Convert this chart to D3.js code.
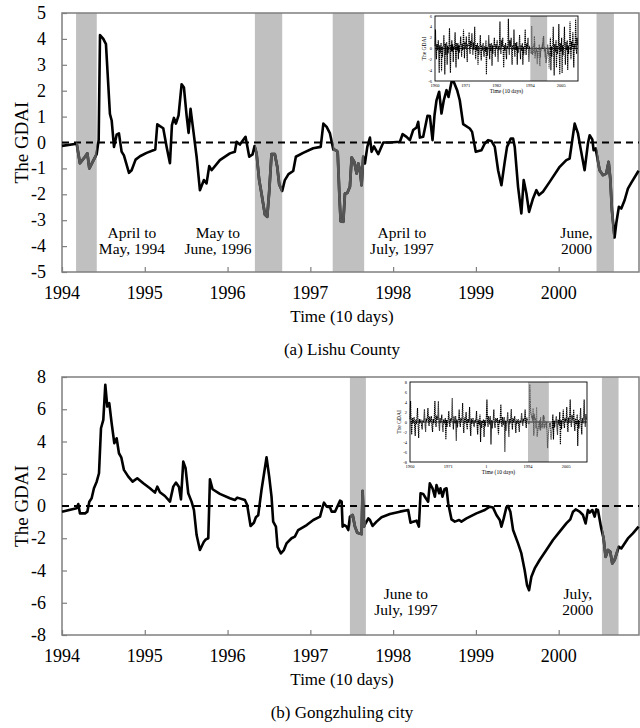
<!DOCTYPE html>
<html>
<head>
<meta charset="utf-8">
<script src="https://cdn.jsdelivr.net/npm/d3@7"></script>
<style>
  body { margin: 0; background: #fff; }
  svg { display: block; }
</style>
</head>
<body>
<div id="chart"></div>
<script>
// GDAI series, [decimal year, value] (10-day steps)
var lishuSeries = [[1994.000,-0.13],[1994.177,-0.05],[1994.217,-0.80],[1994.278,-0.55],[1994.306,-0.42],[1994.330,-1.00],[1994.378,-0.70],[1994.419,-0.45],[1994.443,0.10],[1994.459,4.15],[1994.499,4.00],[1994.531,3.80],[1994.579,1.10],[1994.600,0.85],[1994.628,-0.17],[1994.660,0.30],[1994.688,0.35],[1994.720,-0.35],[1994.748,-0.50],[1994.809,-1.17],[1994.841,-1.07],[1994.889,-0.66],[1994.942,-0.53],[1995.022,-0.40],[1995.127,-0.27],[1995.151,0.70],[1995.183,0.63],[1995.223,0.55],[1995.264,-0.17],[1995.304,-0.80],[1995.328,0.67],[1995.352,0.95],[1995.376,0.73],[1995.408,1.05],[1995.445,2.25],[1995.473,2.12],[1995.505,1.05],[1995.529,0.37],[1995.553,1.30],[1995.586,0.47],[1995.626,-0.55],[1995.666,-1.84],[1995.714,-1.45],[1995.746,-1.58],[1995.779,-0.91],[1995.807,-1.07],[1995.907,-0.68],[1996.028,-0.42],[1996.088,-0.36],[1996.109,0.03],[1996.149,-0.08],[1996.217,0.22],[1996.262,-0.55],[1996.302,-0.46],[1996.326,-0.14],[1996.350,-0.42],[1996.382,-1.45],[1996.410,-1.97],[1996.451,-2.78],[1996.479,-2.87],[1996.503,-1.90],[1996.531,-0.45],[1996.571,-0.45],[1996.600,-0.94],[1996.624,-1.62],[1996.660,-1.87],[1996.692,-1.45],[1996.736,-1.22],[1996.793,-1.10],[1996.825,-0.55],[1996.913,-0.40],[1997.034,-0.22],[1997.125,-0.17],[1997.157,0.73],[1997.197,0.60],[1997.237,0.35],[1997.277,-0.27],[1997.310,-0.30],[1997.330,-0.36],[1997.350,-1.97],[1997.366,-3.04],[1997.398,-3.06],[1997.418,-1.97],[1997.446,-1.95],[1997.478,-1.71],[1997.499,-0.58],[1997.531,-0.75],[1997.559,-1.20],[1997.579,-0.81],[1997.599,-1.07],[1997.619,-1.65],[1997.639,-0.55],[1997.659,-0.81],[1997.688,-0.17],[1997.720,0.19],[1997.740,-0.36],[1997.768,-0.15],[1997.820,-0.45],[1997.881,0.00],[1997.961,0.00],[1998.082,0.03],[1998.114,0.32],[1998.162,0.22],[1998.202,0.09],[1998.242,0.48],[1998.283,0.58],[1998.303,0.80],[1998.323,0.19],[1998.363,0.22],[1998.415,1.03],[1998.444,1.02],[1998.476,0.09],[1998.500,1.06],[1998.524,1.63],[1998.556,1.96],[1998.584,1.12],[1998.612,1.63],[1998.645,2.02],[1998.669,1.76],[1998.705,2.34],[1998.733,2.34],[1998.773,2.02],[1998.805,1.63],[1998.846,0.71],[1998.926,0.54],[1998.954,0.41],[1998.998,-0.36],[1999.067,-0.30],[1999.107,-0.04],[1999.147,0.09],[1999.187,0.06],[1999.228,-0.17],[1999.268,-1.07],[1999.308,-1.65],[1999.348,-0.75],[1999.376,-0.17],[1999.421,0.15],[1999.449,0.15],[1999.469,-0.17],[1999.509,-1.71],[1999.549,-2.74],[1999.577,-1.45],[1999.610,-1.97],[1999.642,-2.68],[1999.690,-2.16],[1999.730,-1.84],[1999.762,-2.03],[1999.810,-1.90],[1999.891,-1.52],[2000.012,-0.94],[2000.092,-0.68],[2000.132,-0.62],[2000.164,0.09],[2000.193,0.73],[2000.233,0.35],[2000.261,-0.17],[2000.313,-1.07],[2000.353,-0.04],[2000.374,0.28],[2000.406,0.12],[2000.422,-0.30],[2000.446,-0.23],[2000.494,-1.07],[2000.534,-1.26],[2000.575,-1.20],[2000.603,-0.75],[2000.623,-1.39],[2000.643,-2.61],[2000.675,-3.67],[2000.695,-3.13],[2000.727,-2.48],[2000.756,-2.55],[2000.796,-2.23],[2000.836,-1.78],[2000.876,-1.56],[2000.965,-1.09]];

var gongSeries = [[1994.000,-0.35],[1994.177,-0.14],[1994.197,0.12],[1994.217,-0.46],[1994.278,-0.46],[1994.306,-0.35],[1994.330,0.27],[1994.358,0.48],[1994.386,1.10],[1994.419,1.51],[1994.447,2.03],[1994.471,4.82],[1994.499,5.34],[1994.523,7.52],[1994.547,6.17],[1994.571,6.38],[1994.600,5.13],[1994.632,3.89],[1994.660,4.20],[1994.688,3.27],[1994.716,3.02],[1994.748,2.24],[1994.801,1.82],[1994.853,1.51],[1994.909,1.72],[1994.982,1.41],[1995.062,1.10],[1995.123,0.83],[1995.151,1.20],[1995.183,0.85],[1995.243,0.62],[1995.304,0.27],[1995.344,1.20],[1995.376,1.45],[1995.412,1.20],[1995.437,0.41],[1995.465,2.75],[1995.493,2.34],[1995.525,0.79],[1995.565,0.27],[1995.594,-0.25],[1995.626,-1.80],[1995.666,-2.73],[1995.714,-2.22],[1995.738,-2.07],[1995.767,-2.00],[1995.787,1.66],[1995.819,1.04],[1995.907,0.75],[1996.028,0.48],[1996.088,0.37],[1996.117,0.52],[1996.209,0.37],[1996.237,0.06],[1996.278,-1.24],[1996.318,-1.04],[1996.342,-0.70],[1996.370,-0.58],[1996.410,0.99],[1996.471,3.02],[1996.503,1.82],[1996.531,0.58],[1996.551,-0.97],[1996.584,-1.28],[1996.604,-2.53],[1996.644,-2.94],[1996.680,-2.73],[1996.712,-2.32],[1996.773,-2.00],[1996.813,-1.90],[1996.853,-1.49],[1996.956,-1.18],[1997.036,-0.87],[1997.117,-0.66],[1997.149,-0.04],[1997.165,0.21],[1997.197,-0.04],[1997.237,-0.08],[1997.257,-0.35],[1997.298,-0.35],[1997.326,-0.04],[1997.358,0.33],[1997.378,0.27],[1997.390,-1.28],[1997.410,-1.18],[1997.438,-1.28],[1997.458,-1.49],[1997.478,-0.66],[1997.511,-0.56],[1997.539,-1.28],[1997.567,-1.66],[1997.619,-1.74],[1997.631,0.93],[1997.647,-1.28],[1997.671,-1.04],[1997.700,-0.77],[1997.720,-0.87],[1997.752,-1.24],[1997.800,-0.97],[1997.860,-0.70],[1997.961,-0.50],[1998.082,-0.35],[1998.182,-0.25],[1998.210,-1.04],[1998.242,-0.97],[1998.283,-0.91],[1998.311,-1.28],[1998.331,0.79],[1998.363,0.75],[1998.395,0.48],[1998.423,0.27],[1998.443,1.41],[1998.476,1.10],[1998.504,0.58],[1998.524,1.30],[1998.556,0.79],[1998.572,1.10],[1998.596,0.58],[1998.620,1.04],[1998.645,1.10],[1998.665,0.17],[1998.705,-0.83],[1998.745,-0.97],[1998.797,-0.87],[1998.825,-0.97],[1998.886,-0.77],[1999.006,-0.46],[1999.107,-0.25],[1999.167,-0.04],[1999.207,-0.10],[1999.248,-0.56],[1999.288,-0.87],[1999.308,-1.28],[1999.336,-0.77],[1999.368,-0.08],[1999.388,0.00],[1999.416,-0.35],[1999.449,-1.49],[1999.509,-2.32],[1999.549,-2.94],[1999.589,-3.98],[1999.618,-4.91],[1999.642,-5.22],[1999.670,-4.39],[1999.710,-3.87],[1999.770,-3.35],[1999.851,-2.73],[1999.931,-2.11],[2000.012,-1.59],[2000.092,-1.08],[2000.140,-0.83],[2000.173,-0.35],[2000.205,-0.21],[2000.253,-0.35],[2000.293,-0.56],[2000.325,-1.08],[2000.353,-0.25],[2000.374,-0.41],[2000.406,-0.25],[2000.434,-0.66],[2000.454,-0.21],[2000.474,-0.25],[2000.514,-1.39],[2000.542,-2.01],[2000.567,-3.15],[2000.595,-2.73],[2000.623,-2.84],[2000.647,-3.56],[2000.675,-3.35],[2000.703,-2.90],[2000.727,-2.53],[2000.756,-2.63],[2000.796,-2.32],[2000.836,-2.01],[2000.896,-1.70],[2000.965,-1.28]];

// drought periods (shaded)
var lishuBands = [[1994.17, 1994.42], [1996.33, 1996.66], [1997.27, 1997.65], [2000.457, 2000.667]];
var gongBands = [[1997.478, 1997.671], [2000.522, 2000.723]];

// inset long records, six readings per year (1960-1993 and 2001-2010)
var lishuInsetEarly = [
  [0.5,3.5,-0.6,-2.0,0.8,-0.3],[0.2,1.5,-1.0,-4.5,0.6,-0.8],[-0.5,1.0,-4.2,0.4,-1.6,0.3],[0.6,2.5,-0.4,-4.8,0.9,-1.2],
  [-0.3,1.2,-3.0,0.5,-0.9,0.2],[0.4,3.8,-1.1,-4.5,0.7,-0.5],[1.5,-0.6,0.8,-2.5,0.3,-0.2],[0.2,3.0,-0.7,-3.5,1.0,0.1],
  [-0.4,1.0,-2.0,0.6,-0.8,0.4],[0.7,2.2,0.1,-1.5,0.9,-0.3],[0.5,3.5,0.8,-1.8,1.2,0.2],[0.3,2.2,-0.5,-2.5,0.8,0.4],
  [0.9,3.0,0.2,-1.0,1.4,0.3],[0.4,2.8,0.6,-1.2,1.1,-0.2],[0.8,4.0,0.3,-2.0,0.7,0.1],[-0.4,1.0,-3.0,0.5,-1.2,0.2],
  [0.3,2.5,-0.6,-2.2,0.6,-0.4],[0.5,1.0,-0.8,-1.5,0.4,-0.1],[-0.6,1.5,-4.8,0.3,-1.4,0.2],[0.4,2.5,-0.3,-2.0,0.9,-0.5],
  [-0.2,1.0,-3.2,0.6,-1.0,0.3],[0.6,2.0,-0.4,-1.5,0.8,0.1],[0.3,1.5,-0.9,-2.5,0.5,-0.3],[0.7,5.0,0.2,-1.0,1.6,0.4],
  [0.5,2.0,-0.7,-3.5,0.6,-0.4],[0.2,1.0,-0.8,-2.0,0.5,0.1],[0.8,5.5,0.4,-1.2,1.5,0.3],[0.4,2.0,-0.9,-3.0,0.6,-0.2],
  [0.6,3.5,-0.2,-1.5,1.0,0.2],[-0.3,1.2,-3.0,0.4,-0.8,0.1],[0.5,2.5,-0.4,-2.0,0.7,-0.3],[-0.2,1.0,-3.0,0.3,-1.1,0.2],
  [0.6,3.5,0.1,-1.2,0.9,0.2],[0.4,2.0,-0.6,-2.5,0.5,-0.1]
];
var lishuInsetLate = [
  [-0.6,2.0,-4.0,0.4,-1.5,0.3],[0.5,4.0,-1.0,-5.0,0.8,-0.6],[-0.4,1.5,-3.5,0.5,-1.0,0.2],[0.7,4.5,-0.8,-4.8,1.0,-0.5],
  [-0.5,2.0,-4.5,0.6,-1.3,0.3],[0.9,4.0,-0.6,-3.0,1.2,0.2],[-0.3,1.5,-4.0,0.5,-1.0,0.4],[0.8,5.0,0.2,-2.0,1.3,0.3],
  [0.4,3.0,-0.8,-3.5,0.9,-0.2],[1.0,5.5,0.5,-1.0,2.0,0.6]
];
var gongInsetEarly = [
  [0.6,4.2,-0.5,-2.5,0.8,-0.3],[0.3,1.0,-0.9,-2.8,0.5,-0.4],[0.7,2.8,-0.6,-3.2,0.6,-0.2],[0.2,0.5,-0.7,-1.5,0.4,-0.1],
  [0.5,2.6,-0.4,-2.0,0.7,0.1],[0.9,2.8,0.3,-0.8,1.1,0.2],[0.4,1.2,-0.8,-2.0,0.6,-0.3],[1.0,4.2,0.2,-1.0,1.3,0.4],
  [0.6,4.2,-0.5,-1.8,0.8,-0.2],[0.3,1.5,-0.7,-2.0,0.5,-0.1],[-0.2,0.8,-3.5,0.4,-1.0,0.2],[0.5,2.2,-0.3,-1.0,0.7,0.1],
  [0.8,4.8,0.1,-1.5,1.2,0.3],[-0.3,1.2,-3.8,0.5,-1.1,0.2],[0.6,2.5,-0.2,-1.0,0.8,0.1],[0.7,3.8,-0.6,-2.2,0.9,-0.3],
  [0.4,2.0,-0.5,-1.5,0.6,-0.1],[0.5,3.0,-0.9,-2.8,0.7,-0.4],[0.2,0.8,-0.6,-1.0,0.4,0.1],[0.6,2.2,-0.7,-2.5,0.5,-0.2],
  [-0.4,1.5,-4.0,0.3,-1.2,0.2],[-0.2,0.5,-3.0,0.4,-0.9,0.1],[0.9,4.5,0.2,-1.0,1.2,0.3],[-0.5,1.2,-4.5,0.4,-1.3,0.1],
  [0.5,2.5,-0.3,-1.2,0.8,0.2],[0.1,0.8,-0.9,-2.5,0.4,-0.3],[0.7,3.5,0.1,-1.0,1.0,0.2],[-0.6,1.0,-6.0,0.3,-1.8,0.2],
  [0.4,2.0,-0.8,-3.0,0.6,-0.3],[0.6,2.6,-0.2,-1.5,0.8,0.1],[0.3,1.2,-0.7,-2.2,0.5,-0.2],[0.1,0.6,-0.8,-2.0,0.3,-0.1],
  [0.5,1.8,0.0,-0.8,0.7,0.2],[0.7,2.5,-0.2,-1.2,0.9,0.3]
];
var gongInsetLate = [
  [-0.4,1.5,-3.5,0.3,-1.1,0.2],[0.3,1.2,-0.9,-2.6,0.5,-0.3],[-0.5,2.0,-4.5,0.4,-1.4,0.2],[0.6,2.5,-0.3,-1.2,0.8,0.1],
  [0.5,3.0,-0.6,-2.0,0.9,-0.2],[1.0,4.5,0.2,-1.0,1.4,0.4],[0.4,2.5,-0.5,-1.8,0.7,-0.1],[-0.5,1.5,-4.8,0.4,-1.3,0.2],
  [0.6,2.8,-0.7,-2.5,0.8,-0.3],[1.1,4.5,0.4,-1.0,1.6,0.5]
];

var yearTicks = [1994, 1995, 1996, 1997, 1998, 1999, 2000];
var insetTickYears = [1960, 1971, 1982, 1994, 2005];
var lishuInsetLabels = ["1960", "1971", "1982", "1994", "2005"];
var gongInsetLabels = ["1960", "1971", "1", "1994", "2005"];

var svg = d3.select("#chart").append("svg")
  .attr("width", 640)
  .attr("height", 728)
  .attr("font-family", "'Liberation Serif', 'Times New Roman', Times, serif");

// builds the inset record: hand-read rows + the 1994-2000 series
function insetPoints(early, series, late) {
  var pts = [];
  early.forEach(function(row, i) {
    row.forEach(function(v, j) { pts.push([1960 + i + j / 6, v]); });
  });
  series.forEach(function(d) { pts.push(d); });
  late.forEach(function(row, i) {
    row.forEach(function(v, j) { pts.push([2001 + i + j / 6, v]); });
  });
  return pts;
}

function drawPanel(cfg) {
  var left = 62, right = 639;
  var x = d3.scaleLinear().domain([1994, 2000.97]).range([left, right]);
  var y = d3.scaleLinear().domain(cfg.yDomain).range([cfg.bottom, cfg.top]);
  var g = svg.append("g");

  // shaded periods
  g.selectAll(".band").data(cfg.bands).enter().append("rect")
    .attr("x", d => x(d[0]))
    .attr("width", d => x(d[1]) - x(d[0]))
    .attr("y", cfg.top)
    .attr("height", cfg.bottom - cfg.top)
    .attr("fill", "#c0c0c0");

  // frame
  g.append("rect")
    .attr("x", left).attr("y", cfg.top)
    .attr("width", right - left).attr("height", cfg.bottom - cfg.top)
    .attr("fill", "none").attr("stroke", "#7f7f7f").attr("stroke-width", 1.5);

  var yAxis = g.append("g")
    .attr("transform", `translate(${left},0)`)
    .call(d3.axisRight(y).tickValues(cfg.yTicks).tickSize(5).tickFormat(""));
  yAxis.select(".domain").remove();
  yAxis.selectAll("line").attr("stroke", "#7f7f7f").attr("stroke-width", 1.2);

  var xAxis = g.append("g")
    .attr("transform", `translate(0,${cfg.bottom})`)
    .call(d3.axisTop(x).tickValues(yearTicks).tickSize(5).tickFormat(""));
  xAxis.select(".domain").remove();
  xAxis.selectAll("line").attr("stroke", "#7f7f7f").attr("stroke-width", 1.2);

  g.selectAll(".ylab").data(cfg.yTicks).enter().append("text")
    .attr("x", 46).attr("y", d => y(d) + 6)
    .attr("text-anchor", "end")
    .attr("font-size", 18)
    .text(d => d);

  g.selectAll(".xlab").data(yearTicks).enter().append("text")
    .attr("x", d => x(d)).attr("y", cfg.bottom + 27)
    .attr("text-anchor", "middle")
    .attr("font-size", 18)
    .text(d => d);

  g.append("text")
    .attr("transform", `translate(28,${(cfg.top + cfg.bottom) / 2}) rotate(-90)`)
    .attr("text-anchor", "middle")
    .attr("font-size", 19)
    .text("The GDAI");

  g.append("text")
    .attr("x", 342).attr("y", cfg.bottom + 50)
    .attr("text-anchor", "middle")
    .attr("font-size", 17)
    .text("Time (10 days)");

  g.append("text")
    .attr("x", 342).attr("y", cfg.bottom + 83)
    .attr("text-anchor", "middle")
    .attr("font-size", 17)
    .text(cfg.title);

  // zero line
  g.append("line")
    .attr("x1", left).attr("x2", right)
    .attr("y1", y(0)).attr("y2", y(0))
    .attr("stroke", "#000").attr("stroke-width", 2)
    .attr("stroke-dasharray", "7,5");

  var line = d3.line().x(d => x(d[0])).y(d => y(d[1]));

  g.append("path")
    .datum(cfg.series)
    .attr("d", line)
    .attr("fill", "none")
    .attr("stroke", "#000")
    .attr("stroke-width", 2.6)
    .attr("stroke-linejoin", "round");

  // gray part of the curve inside the shaded periods
  var clipId = "clip-" + cfg.id;
  g.append("clipPath").attr("id", clipId)
    .selectAll("rect").data(cfg.bands).enter().append("rect")
    .attr("x", d => x(d[0]))
    .attr("width", d => x(d[1]) - x(d[0]))
    .attr("y", cfg.top - 5)
    .attr("height", cfg.bottom - cfg.top + 10);

  g.append("path")
    .datum(cfg.series)
    .attr("d", line)
    .attr("clip-path", `url(#${clipId})`)
    .attr("fill", "none")
    .attr("stroke", "#555")
    .attr("stroke-width", 2.8)
    .attr("stroke-linejoin", "round");

  // period notes
  cfg.notes.forEach(function(n) {
    var t = g.append("text")
      .attr("text-anchor", "middle")
      .attr("font-size", 15.5);
    n.lines.forEach(function(s, i) {
      t.append("tspan").attr("x", x(n.at)).attr("y", n.y + i * 16).text(s);
    });
  });

  drawInset(cfg.inset);
}

function drawInset(ic) {
  var x = d3.scaleLinear().domain([1960, 2011]).range([ic.left, ic.right]);
  var y = d3.scaleLinear().domain(ic.yDomain).range([ic.bottom, ic.top]);
  var g = svg.append("g");

  g.append("rect")
    .attr("x", ic.left).attr("y", ic.top)
    .attr("width", ic.right - ic.left).attr("height", ic.bottom - ic.top)
    .attr("fill", "#fff");

  g.append("rect")
    .attr("x", x(1994)).attr("width", x(2000) - x(1994))
    .attr("y", ic.top).attr("height", ic.bottom - ic.top)
    .attr("fill", "#c0c0c0");

  g.append("line")
    .attr("x1", ic.left).attr("x2", ic.right)
    .attr("y1", y(0)).attr("y2", y(0))
    .attr("stroke", "#000").attr("stroke-width", 0.8);

  var line = d3.line().x(d => x(d[0])).y(d => y(d[1]));
  var pts = ic.points;

  g.append("path")
    .datum(pts.filter(d => d[0] < 1994))
    .attr("d", line)
    .attr("fill", "none").attr("stroke", "#000")
    .attr("stroke-width", 1.1).attr("stroke-dasharray", "1.4,0.6");
  g.append("path")
    .datum(pts.filter(d => d[0] >= 1994 && d[0] < 2001))
    .attr("d", line)
    .attr("fill", "none").attr("stroke", "#555")
    .attr("stroke-width", 1.1).attr("stroke-dasharray", "1.4,0.6");
  g.append("path")
    .datum(pts.filter(d => d[0] >= 2000.9))
    .attr("d", line)
    .attr("fill", "none").attr("stroke", "#000")
    .attr("stroke-width", 1.1).attr("stroke-dasharray", "1.4,0.6");

  g.append("rect")
    .attr("x", ic.left).attr("y", ic.top)
    .attr("width", ic.right - ic.left).attr("height", ic.bottom - ic.top)
    .attr("fill", "none").attr("stroke", "#000").attr("stroke-width", 0.9);

  g.selectAll(".iy").data(ic.yTicks).enter().append("text")
    .attr("x", ic.left - 3).attr("y", d => y(d) + 1.5)
    .attr("text-anchor", "end")
    .attr("font-size", 4.5)
    .text(d => d);

  g.selectAll(".ix").data(insetTickYears).enter().append("text")
    .attr("x", d => x(d)).attr("y", ic.bottom + 6)
    .attr("text-anchor", "middle")
    .attr("font-size", 4.5)
    .text((d, i) => ic.labels[i]);

  g.append("text")
    .attr("x", (ic.left + ic.right) / 2).attr("y", ic.bottom + 12)
    .attr("text-anchor", "middle")
    .attr("font-size", 5.5)
    .text("Time (10 days)");

  g.append("text")
    .attr("transform", `translate(${ic.left - 9},${(ic.top + ic.bottom) / 2}) rotate(-90)`)
    .attr("text-anchor", "middle")
    .attr("font-size", 5.5)
    .text("The GDAI");
}

drawPanel({
  id: "a",
  series: lishuSeries,
  bands: lishuBands,
  yDomain: [-5, 5],
  yTicks: d3.range(-5, 6, 1),
  top: 13, bottom: 272,
  title: "(a) Lishu County",
  notes: [
    { at: 1994.845, y: 238, lines: ["April to", "May, 1994"] },
    { at: 1995.884, y: 238, lines: ["May to", "June, 1996"] },
    { at: 1998.106, y: 238, lines: ["April to", "July, 1997"] },
    { at: 2000.215, y: 238, lines: ["June,", "2000"] }
  ],
  inset: {
    left: 435, right: 578, top: 16, bottom: 81,
    yDomain: [-6, 6], yTicks: d3.range(-6, 7, 2),
    labels: lishuInsetLabels,
    points: insetPoints(lishuInsetEarly, lishuSeries, lishuInsetLate)
  }
});

drawPanel({
  id: "b",
  series: gongSeries,
  bands: gongBands,
  yDomain: [-8, 8],
  yTicks: d3.range(-8, 9, 2),
  top: 377, bottom: 635,
  title: "(b) Gongzhuling city",
  notes: [
    { at: 1998.155, y: 599, lines: ["June to", "July, 1997"] },
    { at: 2000.23, y: 599, lines: ["July,", "2000"] }
  ],
  inset: {
    left: 410, right: 587, top: 382, bottom: 462,
    yDomain: [-8, 8], yTicks: d3.range(-8, 9, 2),
    labels: gongInsetLabels,
    points: insetPoints(gongInsetEarly, gongSeries, gongInsetLate)
  }
});
</script>
</body>
</html>
